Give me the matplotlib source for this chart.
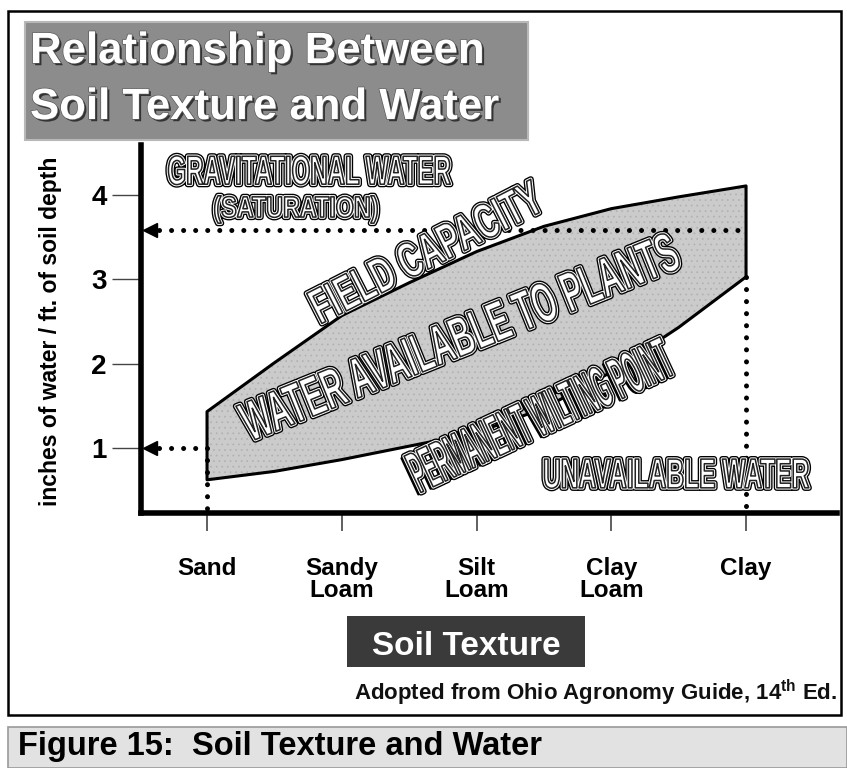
import matplotlib
matplotlib.use("Agg")
import matplotlib.pyplot as plt
import matplotlib.colors as mcolors
from matplotlib import patheffects as pe
from matplotlib.patheffects import AbstractPathEffect
from matplotlib.transforms import Affine2D
from matplotlib.patches import Rectangle

plt.rcParams['font.family'] = ['Liberation Sans', 'DejaVu Sans']
plt.rcParams['mathtext.fontset'] = 'custom'
plt.rcParams['mathtext.rm'] = 'Liberation Sans'
plt.rcParams['mathtext.bf'] = 'Liberation Sans:bold'
plt.rcParams['hatch.linewidth'] = 0.5

# ---------------- data ----------------
textures = ["Sand", "Sandy\nLoam", "Silt\nLoam", "Clay\nLoam", "Clay"]
texture_pos = [0, 1, 2, 3, 4]
sample_pos = [0, 0.5, 1, 1.5, 2, 2.5, 3, 3.5, 4]
field_capacity = [1.43, 2.01, 2.57, 2.96, 3.33, 3.63, 3.84, 3.98, 4.11]
wilting_point = [0.62, 0.72, 0.86, 1.02, 1.18, 1.47, 1.90, 2.43, 3.03]
saturation_level = 3.59
sand_level = 1.0
yticks = [1, 2, 3, 4]
ylabel = "inches of water / ft. of soil depth"

W, H = 847, 768


def fx(x):
    return x / W


def fy(y):
    return 1 - y / H


class OutlineTall(AbstractPathEffect):
    """Draw text glyphs stretched vertically (poster style) with a double outline."""

    def __init__(self, sy=1.6, outer=3.2, gap=1.8, inner=0.8,
                 shadow=None, shadow_color='#333333'):
        super().__init__(offset=(0., 0.))
        self.sy = sy
        self.outer, self.gap, self.inner = outer, gap, inner
        self.shadow = shadow
        self.shadow_color = shadow_color

    def draw_path(self, renderer, gc, tpath, affine, rgbFace=None):
        ext = tpath.get_extents()
        cx = 0.5 * (ext.x0 + ext.x1)
        cy = 0.5 * (ext.y0 + ext.y1)
        aff = Affine2D().translate(-cx, -cy).scale(1.0, self.sy).translate(cx, cy) + affine
        p2p = renderer.points_to_pixels
        if self.shadow is not None:
            for k in (1.0, 0.66, 0.33):
                g = renderer.new_gc()
                g.copy_properties(gc)
                g.set_linewidth(p2p(0.9))
                g.set_foreground('black')
                dx, dy = p2p(self.shadow[0] * k), p2p(self.shadow[1] * k)
                renderer.draw_path(g, tpath, aff + Affine2D().translate(dx, dy),
                                   mcolors.to_rgba(self.shadow_color))
                g.restore()
        g = renderer.new_gc()
        g.copy_properties(gc)
        g.set_joinstyle('round')
        g.set_linewidth(p2p(self.outer))
        g.set_foreground('black')
        renderer.draw_path(g, tpath, aff, None)
        g.set_linewidth(p2p(self.gap))
        g.set_foreground('white')
        renderer.draw_path(g, tpath, aff, None)
        g.set_linewidth(p2p(self.inner))
        g.set_foreground('#222222')
        renderer.draw_path(g, tpath, aff, rgbFace)
        g.restore()


fig = plt.figure(figsize=(W / 100, H / 100), dpi=100)
fig.patch.set_facecolor('white')

# outer frame
fig.add_artist(Rectangle((fx(8), fy(715)), (841 - 8) / W, (715 - 11) / H,
                         transform=fig.transFigure, fill=False,
                         edgecolor='black', linewidth=1.8, zorder=0))

# title box
fig.add_artist(Rectangle((fx(25), fy(140)), (528 - 25) / W, (140 - 22) / H,
                         transform=fig.transFigure, facecolor='#8c8c8c',
                         edgecolor='#b8b8b8', linewidth=1.5, zorder=0))
title_fx = [pe.SimplePatchShadow(offset=(1.6, -1.6), shadow_rgbFace='#2a2a2a', alpha=0.9),
            pe.Stroke(linewidth=1.0, foreground='#5a5a5a'), pe.Normal()]
fig.text(fx(30), fy(63), "Relationship Between", color='white', fontsize=31.5,
         fontweight='bold', va='baseline', ha='left', path_effects=title_fx)
fig.text(fx(30), fy(119), "Soil Texture and Water", color='white', fontsize=31.5,
         fontweight='bold', va='baseline', ha='left', path_effects=title_fx)

# ---------------- axes ----------------
ax_left, ax_right, ax_bottom, ax_top = 141, 837, 513, 145
ax = fig.add_axes([fx(ax_left), fy(ax_bottom), (ax_right - ax_left) / W,
                   (ax_bottom - ax_top) / H])
ax.set_facecolor('none')
xmin, xmax = -0.49, 4.675
ymin, ymax = 0.226, 4.596
ax.set_xlim(xmin, xmax)
ax.set_ylim(ymin, ymax)
for s in ('top', 'right'):
    ax.spines[s].set_visible(False)
for s in ('left', 'bottom'):
    ax.spines[s].set_linewidth(4)
    ax.spines[s].set_capstyle('projecting')

ax.set_xticks(texture_pos, textures)
ax.tick_params(axis='x', length=13, width=1.2, color='#444444', pad=19,
               labelsize=17.5)
for lab in ax.get_xticklabels():
    lab.set_fontweight('bold')
    lab.set_linespacing(0.92)
ax.set_yticks(yticks, [str(v) for v in yticks])
ax.tick_params(axis='y', length=21, width=1.0, color='#444444', pad=3.5,
               labelsize=20)
for lab in ax.get_yticklabels():
    lab.set_fontweight('bold')

ax.set_ylabel(ylabel, fontsize=16.5, fontweight='bold')
ax.yaxis.set_label_coords((50 - ax_left) / (ax_right - ax_left),
                          (ax_bottom - 331) / (ax_bottom - ax_top))
ax.yaxis.label.set_va('center')

# available-water band
ax.fill_between(sample_pos, wilting_point, field_capacity, facecolor='#cbcbcb',
                edgecolor='#b0b0b0', hatch='...', linewidth=0, zorder=2)
ax.fill_between(sample_pos, wilting_point, field_capacity, facecolor='none',
                edgecolor='black', linewidth=2.2, zorder=3)

# dotted guide lines
dot = dict(color='black', linewidth=3.6, linestyle=(0, (0.01, 2.4)),
           dash_capstyle='round', zorder=4, clip_on=False)
arrow_x = xmin + 0.067
ax.plot([arrow_x + 0.07, texture_pos[-1]], [saturation_level] * 2, **dot)
ax.plot([arrow_x + 0.07, texture_pos[0]], [sand_level] * 2, **dot)
ax.plot([texture_pos[0]] * 2, [sand_level, ymin], **dot)
ax.plot([texture_pos[-1]] * 2, [wilting_point[-1], ymin], **dot)
ax.plot([arrow_x, arrow_x], [saturation_level, sand_level], linestyle='none',
        marker='<', markersize=10, color='black', zorder=5, clip_on=False)


# ---------------- outlined poster labels ----------------
def outlined(text, cx, cy, fs, sy, rot=0, shadow=None):
    fig.text(fx(cx), fy(cy), text, fontsize=fs, fontweight='bold', color='white',
             ha='center', va='center', rotation=rot, rotation_mode='anchor',
             path_effects=[OutlineTall(sy=sy, shadow=shadow)], zorder=6)


outlined("GRAVITATIONAL WATER", 309, 172, 17.3, 1.69)
outlined("(SATURATION)", 296, 209, 16.8, 1.26)
outlined("FIELD CAPACITY", 427, 254, 22.3, 1.58, rot=27)
outlined("WATER AVAILABLE TO PLANTS", 460, 339, 22.0, 1.82, rot=22)
outlined("PERMANENT WILTING POINT", 541, 416, 14.5, 2.9, rot=25, shadow=(-2.0, -1.5))
outlined("UNAVAILABLE WATER", 676, 475, 17.7, 1.70)

# ---------------- bottom texts ----------------
fig.add_artist(Rectangle((fx(347), fy(667)), (585 - 347) / W, (667 - 616) / H,
                         transform=fig.transFigure, facecolor='#3a3a3a',
                         edgecolor='none', zorder=0))
fig.text(fx(466), fy(655), "Soil Texture", color='white', fontsize=24,
         fontweight='bold', ha='center', va='baseline')

fig.text(fx(837), fy(700), r"Adopted from Ohio Agronomy Guide, 14$^{\mathbf{th}}$ Ed.",
         color='#111111', fontsize=16, fontweight='bold', ha='right', va='baseline')

fig.add_artist(Rectangle((fx(8), fy(768)), (847 - 8) / W, (768 - 727) / H,
                         transform=fig.transFigure, facecolor='#e2e2e2',
                         edgecolor='#999999', linewidth=1.2, zorder=0))
fig.text(fx(18), fy(755), "Figure 15:  Soil Texture and Water", color='black',
         fontsize=23.5, fontweight='bold', ha='left', va='baseline')

fig.savefig("out.png", dpi=100, facecolor='white')
